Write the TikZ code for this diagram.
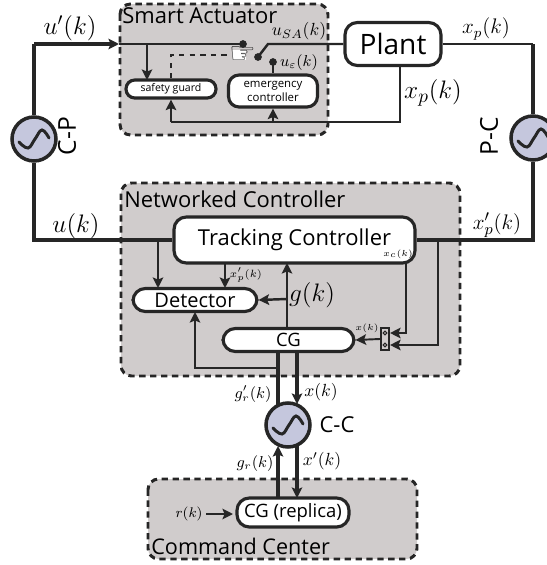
\documentclass[tikz,border=0pt]{standalone}
\usepackage{amsmath}
\usepackage{fontspec}
\setmainfont{Open Sans}
\setmathrm{Latin Modern Roman}
\newfontfamily\symfont{DejaVu Sans}
\usetikzlibrary{arrows, arrows.meta}
\usetikzlibrary{positioning}
\definecolor{zonegray}{RGB}{208,204,204}
\definecolor{wavefill}{RGB}{197,199,221}
\tikzset{
  zone/.style={draw=black!85, fill=zonegray, line width=1.7pt, dash pattern=on 3.6pt off 2.6pt, rounded corners=6pt},
  block/.style={draw=black!85, fill=white, line width=1.8pt, rounded corners=7pt, inner sep=0pt, align=center},
  wave/.style={circle, draw=black!85, fill=wavefill, line width=2pt, minimum size=0.88cm, inner sep=0pt},
  wire/.style={line width=1.9pt, draw=black!85},
  mid wire/.style={line width=1.4pt, draw=black!85},
  thin wire/.style={line width=1.1pt, draw=black!85},
  heavy wire/.style={line width=2.1pt, draw=black!85},
  >={Stealth[length=6pt,width=6pt,inset=1.2pt]}
}
\begin{document}
\begin{tikzpicture}[x=0.02cm, y=-0.02cm]
\useasboundingbox (0,0) rectangle (547,565);
% zones
\draw[zone] (120,4) rectangle (328,135);
\draw[zone] (121,183) rectangle (460,376);
\draw[zone] (148,479) rectangle (417,559);
\node[anchor=west, font=\fontsize{12.5}{12.5}\selectfont, inner sep=0pt] (satext) at (122,16) {Smart Actuator};
\node[anchor=west, font=\fontsize{12.5}{12.5}\selectfont, inner sep=0pt] (nctext) at (124,199) {Networked Controller};
\node[anchor=west, font=\fontsize{12.3}{12.3}\selectfont, inner sep=0pt] (cctext) at (151,546) {Command Center};
% blocks
\node[block, minimum width=1.92cm, minimum height=0.86cm, font=\fontsize{16}{16}\selectfont] (plant) at (393,44) {Plant};
\node[block, minimum width=4.82cm, minimum height=0.92cm, font=\fontsize{12.5}{12.5}\selectfont] (tracking) at (294.5,240) {Tracking Controller};
\node[block, minimum width=2.48cm, minimum height=0.46cm, font=\fontsize{11.4}{11.4}\selectfont] (detector) at (195,300) {Detector};
\node[block, minimum width=2.62cm, minimum height=0.46cm, font=\fontsize{10.5}{10.5}\selectfont] (cg) at (288.5,340) {CG};
\node[block, minimum width=2.24cm, minimum height=0.58cm, font=\fontsize{10.5}{10.5}\selectfont] (replica) at (293,512.5) {CG (replica)};
\node[block, rounded corners=5pt, minimum width=1.8cm, minimum height=0.36cm, font=\fontsize{6}{6}\selectfont] (guard) at (171,89) {safety guard};
\node[block, rounded corners=6pt, minimum width=1.78cm, minimum height=0.64cm, font=\fontsize{6.5}{8}\selectfont] (emergency) at (273,91) {emergency\\controller};
\node[draw=black!85, fill=zonegray, line width=0.9pt, minimum width=0.17cm, minimum height=0.44cm, inner sep=0pt] (mux) at (385,339) {};
\node[circle, draw=black!85, line width=0.6pt, minimum size=2.2pt, inner sep=0pt] (muxa) at (385,333) {};
\node[circle, draw=black!85, line width=0.6pt, minimum size=2.2pt, inner sep=0pt] (muxb) at (385,345) {};
% links
\node[wave] (cp) at (34,139) {};
\node[wave] (pc) at (533,138) {};
\node[wave] (cc) at (288,425) {};
\foreach \w in {cp,pc,cc}
  \draw[line width=1.7pt, black!85, line cap=round, shift={(\w.center)}] plot[smooth, tension=0.7] coordinates {(-15,3) (-6,9) (1,0) (8,-9) (15,-1)};
\node[rotate=90, font=\fontsize{14}{14}\selectfont, inner sep=0pt] (cplabel) at (67,136) {C-P};
\node[rotate=90, font=\fontsize{14}{14}\selectfont, inner sep=0pt] (pclabel) at (489,136) {P-C};
\node[font=\fontsize{12.5}{12.5}\selectfont, inner sep=0pt] (cclabel) at (337,425) {C-C};
% coordinates
\coordinate (swin) at (243,44);
\coordinate (swa) at (258,57);
\coordinate (swb) at (268,44);
\coordinate (ue) at (273,62);
\coordinate (handl) at (231,55);
\coordinate (cpt) at (34,44);
\coordinate (entry) at (119,44);
\coordinate (gtap) at (147,44);
\coordinate (gend) at (147,80);
\coordinate (pct) at (533,44);
\coordinate (fbt) at (400,65);
\coordinate (fbe) at (273,122);
\coordinate (fbg) at (171,122);
\coordinate (ltap) at (158,240);
\coordinate (ldet) at (158,288);
\coordinate (mtop) at (225,263);
\coordinate (mdet) at (225,288);
\coordinate (gcg) at (287,328);
\coordinate (gtc) at (287,263);
\coordinate (gtap2) at (287,299);
\coordinate (xct) at (406,263);
\coordinate (rtap) at (438,240);
\coordinate (cgl) at (278,352);
\coordinate (cgr) at (297,352);
\coordinate (ccl) at (278,405);
\coordinate (ccr) at (297,404);
\coordinate (ccbl) at (278,446);
\coordinate (ccbr) at (297,446);
\coordinate (repl) at (278,498);
\coordinate (repr) at (297,498);
\coordinate (dtap) at (278,368);
\coordinate (ddet) at (195,312);
\coordinate (rin) at (206,514);
\coordinate (rout) at (233,514);
\fill[black!85] (swin) circle (2.2pt) (swa) circle (2.2pt) (ue) circle (2.2pt);
% top row
\draw[wire] (cp.north) -- (cpt);
\draw[wire,->] (cpt) -- (entry);
\draw[mid wire] (entry) -- (swin);
\draw[mid wire,->] (gtap) -- (gend);
\draw[mid wire] (swa) -- (swb) -- (plant.west |- swb);
\draw[mid wire] (ue) -- (emergency.north);
\draw[thin wire, dashed] (guard.north) |- (handl);
\fill[white] (232,50) rectangle (246,60);
\node[inner sep=0pt, font=\symfont\fontsize{17}{17}\selectfont, text=black!85] (handsym) at (243,55) {☞};
\draw[mid wire] (plant.east) -- (pct);
\draw[heavy wire] (pct) -- (pc.north);
\draw[mid wire] (fbt) |- (fbg);
\draw[mid wire,->] (fbg) -- (guard.south);
\draw[mid wire,->] (fbe) -- (emergency.south);
% middle row
\draw[wire] (cp.south) |- (tracking.west);
\draw[wire] (pc.south) |- (tracking.east);
\draw[mid wire,->] (ltap) -- (ldet);
\draw[mid wire,->] (mtop) -- (mdet);
\draw[mid wire,->] (gcg) -- (gtc);
\draw[mid wire,->] (gtap2) -- (detector.east);
\draw[thin wire,->] (xct) |- (mux.east |- muxa);
\draw[mid wire,->] (rtap) |- (mux.east |- muxb);
\draw[thin wire,->] (mux.west) -- (cg.east);
\draw[mid wire,->] (dtap) -| (ddet);
\draw[heavy wire] (cgl) -- (ccl);
\draw[wire,->] (cgr) -- (ccr);
\draw[heavy wire,->] (repl) -- (ccbl);
\draw[wire,->] (ccbr) -- (repr);
\draw[mid wire,->] (rin) -- (rout);
% labels
\node[inner sep=0pt] (uplabel) at (70,28) {\fontsize{14.5}{14.5}\selectfont$u'(k)$};
\node[inner sep=0pt] (ulabel) at (76,226) {\fontsize{15}{15}\selectfont$u(k)$};
\node[inner sep=0pt] (xplabel) at (486,29) {\fontsize{12}{12}\selectfont$x_p(k)$};
\node[inner sep=0pt] (xpplabel) at (497,225) {\fontsize{12.5}{12.5}\selectfont$x'_p(k)$};
\node[inner sep=0pt] (xpbig) at (433,93) {\fontsize{15.5}{15.5}\selectfont$x_p(k)$};
\node[inner sep=0pt] (usalabel) at (299,31) {\fontsize{10}{10}\selectfont$u_{SA}(k)$};
\node[inner sep=0pt] (uelabel) at (299,63) {\fontsize{9}{9}\selectfont$u_{\varepsilon}(k)$};
\node[inner sep=0pt] (xclabel) at (398,254) {\fontsize{4.5}{4.5}\selectfont$x_c(k)$};
\node[inner sep=0pt] (dxlabel) at (246,275) {\fontsize{6.5}{6.5}\selectfont$x'_p(k)$};
\node[inner sep=0pt] (glabel) at (312,295) {\fontsize{13.5}{13.5}\selectfont$g(k)$};
\node[inner sep=0pt] (xklabel) at (367,328) {\fontsize{5}{5}\selectfont$x(k)$};
\node[inner sep=0pt] (grplabel) at (253,394) {\fontsize{9}{9}\selectfont$g'_r(k)$};
\node[inner sep=0pt] (xdown) at (321,392) {\fontsize{10}{10}\selectfont$x(k)$};
\node[inner sep=0pt] (grlabel) at (255,464) {\fontsize{9}{9}\selectfont$g_r(k)$};
\node[inner sep=0pt] (xpdown) at (322,461) {\fontsize{10}{10}\selectfont$x'(k)$};
\node[inner sep=0pt] (rlabel) at (189,514) {\fontsize{8.5}{8.5}\selectfont$r(k)$};
\end{tikzpicture}
\end{document}
